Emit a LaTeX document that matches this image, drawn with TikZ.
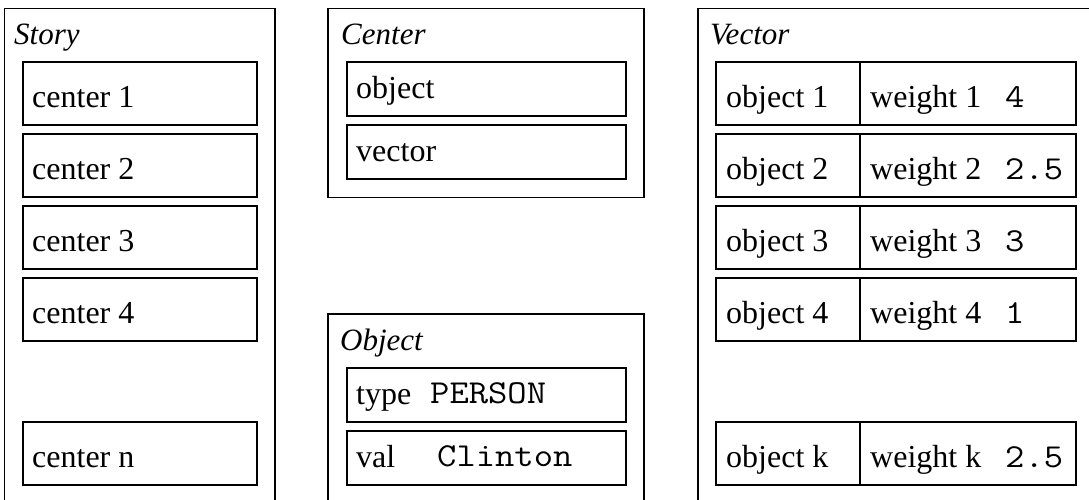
\documentclass[tikz,border=0pt]{standalone}
\usepackage{fontspec}
\setmainfont{Liberation Serif}
\setmonofont[FakeStretch=1.12]{Latin Modern Mono}
\tikzset{
  frame/.style={draw, line width=1.2pt, anchor=north west, inner sep=0pt, outer sep=0pt},
  slot/.style={draw, line width=1.2pt, anchor=north west, inner sep=0pt, outer sep=0pt},
  txt/.style={anchor=base west, inner sep=0pt, font=\fontsize{32}{36}\selectfont},
  head/.style={anchor=base west, inner sep=0pt, font=\fontsize{31}{36}\selectfont\itshape},
  val/.style={anchor=base west, inner sep=0pt, font=\fontsize{33.5}{36}\selectfont\ttfamily}
}
\begin{document}
\begin{tikzpicture}[x=1pt, y=-1pt]
  \useasboundingbox (0,0) rectangle (1089,499);
  \clip (0,0) rectangle (1089,499);

  % Story
  \node[frame, minimum width=270.5pt, minimum height=530pt] (story) at (4.5,8.5) {};
  \node[head] (storyT) at (14,44) {Story};
  \foreach \y/\i in {62/1, 134/2, 206/3, 278/4, 422/n} {
    \node[slot, minimum width=234pt, minimum height=63pt] (c\i) at (23,\y) {};
    \node[txt] (c\i T) at ([shift={(9pt,17.5pt)}]c\i.south west) {center \i};
  }

  % Center
  \node[frame, minimum width=316pt, minimum height=189pt] (center) at (328,8.5) {};
  \node[head] (centerT) at (341,44) {Center};
  \node[slot, minimum width=279pt, minimum height=54pt] (cobj) at (347,62) {};
  \node[txt] (cobjT) at ([shift={(9pt,17.5pt)}]cobj.south west) {object};
  \node[slot, minimum width=279pt, minimum height=54pt] (cvec) at (347,125) {};
  \node[txt] (cvecT) at ([shift={(9pt,17.5pt)}]cvec.south west) {vector};

  % Object
  \node[frame, minimum width=316pt, minimum height=220pt] (object) at (328,314) {};
  \node[head] (objectT) at (340,350) {Object};
  \node[slot, minimum width=279pt, minimum height=54pt] (otype) at (347,368) {};
  \node[txt] (otypeT) at ([shift={(9pt,17.5pt)}]otype.south west) {type};
  \node[val] (otypeV) at (430,403.5) {PERSON};
  \node[slot, minimum width=279pt, minimum height=54pt] (oval) at (347,431) {};
  \node[txt] (ovalT) at ([shift={(9pt,17.5pt)}]oval.south west) {val};
  \node[val] (ovalV) at (437,466.5) {Clinton};

  % Vector
  \node[frame, minimum width=430pt, minimum height=530pt] (vector) at (698,8.5) {};
  \node[head] (vectorT) at (710,44) {Vector};
  \foreach \y/\i/\w in {62/1/4, 134/2/2.5, 206/3/3, 278/4/1, 422/k/2.5} {
    \node[slot, minimum width=144pt, minimum height=63pt] (o\i) at (716,\y) {};
    \node[slot, minimum width=216pt, minimum height=63pt] (w\i) at (860,\y) {};
    \node[txt] (o\i T) at ([shift={(10pt,17.5pt)}]o\i.south west) {object \i};
    \node[txt] (w\i T) at ([shift={(10pt,17.5pt)}]w\i.south west) {weight \i};
    \node[val] (w\i V) at ([shift={(145pt,17.5pt)}]w\i.south west) {\w};
  }
\end{tikzpicture}
\end{document}
